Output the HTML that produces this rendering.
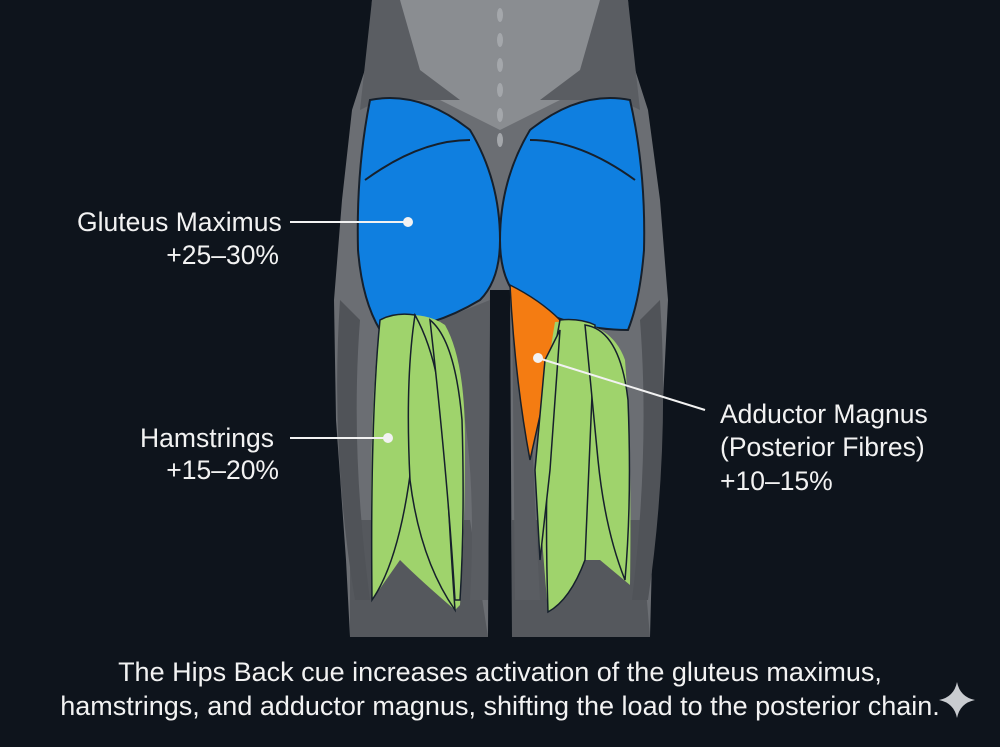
<!DOCTYPE html>
<html><head><style>
html,body{margin:0;padding:0;background:#0e141c;}
svg{display:block}
text{font-family:"Liberation Sans",sans-serif;fill:#f2f2f2}
</style></head><body>
<svg width="1000" height="747" viewBox="0 0 1000 747">
<rect width="1000" height="747" fill="#0e141c"/>
<path d="M372 0 L628 0 L632 60 L648 110 L660 200 L668 300 L662 420 L652 560 L650 637 L512 637 L510 290 L490 290 L488 637 L350 637 L346 560 L336 420 L334 300 L342 200 L352 110 L368 60 Z" fill="#6b6e73"/>
<path d="M400 0 L600 0 L590 60 L560 100 L500 130 L440 100 L410 60 Z" fill="#8a8d91"/>
<path d="M372 0 L400 0 L420 70 L460 100 L380 100 L360 110 Z M628 0 L600 0 L580 70 L540 100 L620 100 L640 110 Z" fill="#5a5d62"/>
<g fill="#a4a7ab"><ellipse cx="500" cy="15" rx="3" ry="7"/><ellipse cx="500" cy="40" rx="3" ry="7"/><ellipse cx="500" cy="65" rx="3" ry="7"/><ellipse cx="500" cy="90" rx="3" ry="7"/><ellipse cx="500" cy="115" rx="3" ry="7"/><ellipse cx="500" cy="140" rx="3" ry="7"/></g>
<path d="M350 520 L470 520 L488 637 L350 637 Z" fill="#55585d"/>
<path d="M512 520 L640 520 L650 637 L512 637 Z" fill="#55585d"/>
<path d="M340 300 Q330 450 355 600 L370 600 Q350 450 360 320 Z" fill="#505358"/>
<path d="M660 300 Q670 450 648 600 L632 600 Q650 450 640 320 Z" fill="#505358"/>
<path d="M440 320 Q480 420 470 600 L488 600 L490 300 Z" fill="#5a5d62"/>
<path d="M512 300 L515 600 L540 600 Q530 420 530 320 Z" fill="#5a5d62"/>
<path d="M370 100 Q420 90 470 130 Q500 180 500 240 Q500 280 480 300 Q430 330 380 330 Q362 300 358 250 Q356 170 370 100 Z" fill="#0f7fe0" stroke="#16202c" stroke-width="2"/>
<path d="M630 100 Q580 90 530 130 Q500 180 500 240 Q500 280 520 300 Q570 330 628 330 Q640 300 644 250 Q646 170 630 100 Z" fill="#0f7fe0" stroke="#16202c" stroke-width="2"/>
<path d="M365 180 Q420 140 470 140 M635 180 Q580 140 530 140" stroke="#16202c" stroke-width="2" fill="none"/>
<path d="M510 285 Q540 300 560 320 L548 380 L530 460 Q515 380 510 285 Z" fill="#f47c12" stroke="#16202c" stroke-width="1.5"/>
<!-- green base fills -->
<path d="M380 320 Q420 308 445 325 Q465 360 465 440 Q465 530 460 605 L455 610 Q420 580 400 560 L372 600 Q368 420 380 320 Z" fill="#9fd36c"/>
<path d="M555 322 Q610 318 625 360 Q632 450 630 585 L600 560 L585 560 Q570 600 548 612 Q540 520 538 470 Q545 380 555 322 Z" fill="#9fd36c"/>
<path d="M380 320 Q370 420 372 600 Q400 560 412 460 Q420 380 415 315 Q395 312 380 320 Z" fill="#9fd36c" stroke="#16202c" stroke-width="1.5"/>
<path d="M415 315 Q440 360 445 440 Q450 540 455 610 Q420 560 410 480 Q405 380 415 315 Z" fill="#9fd36c" stroke="#16202c" stroke-width="1.5"/>
<path d="M430 320 Q455 340 462 420 Q465 520 460 600 L455 600 Q448 480 430 320 Z" fill="#9fd36c" stroke="#16202c" stroke-width="1.5"/>
<path d="M560 320 Q580 318 595 325 Q590 450 585 560 Q570 600 548 612 Q545 520 548 440 Q550 370 560 320 Z" fill="#9fd36c" stroke="#16202c" stroke-width="1.5"/>
<path d="M585 325 Q620 330 628 400 Q632 500 625 580 Q605 530 598 460 Q590 380 585 325 Z" fill="#9fd36c" stroke="#16202c" stroke-width="1.5"/>
<path d="M545 360 L560 330 L550 470 L540 560 L535 470 Z" fill="#9fd36c" stroke="#16202c" stroke-width="1.5"/>
<g stroke="#f2f2f2" stroke-width="2" fill="#f2f2f2">
<line x1="290" y1="222" x2="408" y2="222"/><circle cx="408" cy="222" r="4"/>
<line x1="290" y1="438" x2="388" y2="438"/><circle cx="388" cy="438" r="4"/>
<line x1="538" y1="358" x2="705" y2="410"/><circle cx="538" cy="358" r="4"/>
</g>
<text x="77" y="231" font-size="26.5">Gluteus Maximus</text>
<text x="279" y="264" font-size="26.5" text-anchor="end">+25–30%</text>
<text x="140" y="447" font-size="26.5">Hamstrings</text>
<text x="279" y="479" font-size="26.5" text-anchor="end">+15–20%</text>
<text x="720" y="423" font-size="26.5">Adductor Magnus</text>
<text x="720" y="456" font-size="26.5">(Posterior Fibres)</text>
<text x="720" y="490" font-size="26.5">+10–15%</text>
<text x="500" y="681" font-size="27" text-anchor="middle">The Hips Back cue increases activation of the gluteus maximus,</text>
<text x="500" y="715" font-size="27" text-anchor="middle">hamstrings, and adductor magnus, shifting the load to the posterior chain.</text>
<path d="M957 682 Q960 697 975 700 Q960 703 957 718 Q954 703 939 700 Q954 697 957 682 Z" fill="#c9ccd0"/>
</svg>
</body></html>
